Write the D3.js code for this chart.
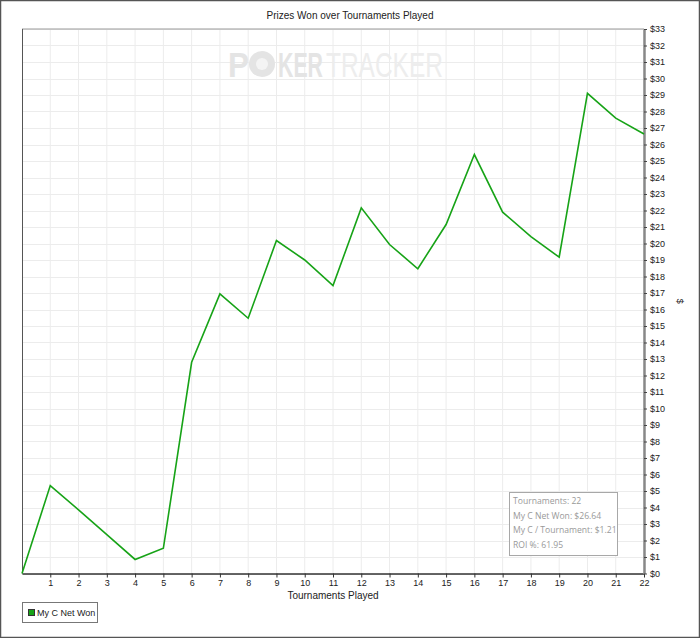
<!DOCTYPE html>
<html><head><meta charset="utf-8">
<script src="https://cdn.jsdelivr.net/npm/d3@7"></script>
<style>body{margin:0;background:#fff}svg{display:block}</style>
</head><body>
<svg id="c" width="700" height="638"></svg>
<script>
const tournaments = d3.range(0, 23);
const netWon = [0, 5.33, 3.86, 2.36, 0.85, 1.53, 12.8, 16.95, 15.47, 20.18, 19.0, 17.45, 22.16, 19.94, 18.47, 21.15, 25.39, 21.9, 20.42, 19.17, 29.1, 27.6, 26.64];
const xTicks = d3.range(1, 23);
const yTicks = d3.range(0, 34);
const statsLines = ["Tournaments: 22", "My C Net Won: $26.64", "My C / Tournament: $1.21", "ROI %: 61.95"];
const seriesName = "My C Net Won";
const title = "Prizes Won over Tournaments Played";

const svg = d3.select("#c");
const L = 22, R = 644, T = 29, B = 573.5;
const x = d3.scaleLinear().domain([0, 22]).range([L, R]);
const y = d3.scaleLinear().domain([0, 33]).range([B, T]);
const font = "Liberation Sans, Arial, sans-serif";

// outer frame
svg.append("rect").attr("x",0.5).attr("y",0.5).attr("width",699).attr("height",637)
  .attr("fill","#fff").attr("stroke","#555").attr("stroke-width",1.5);

svg.append("text").attr("x",350).attr("y",19).attr("text-anchor","middle")
  .attr("font-family",font).attr("font-size",10).attr("fill","#222").text(title);

// grid
const g = svg.append("g");
g.selectAll(".vg").data(xTicks).join("line")
  .attr("x1",d=>x(d)).attr("x2",d=>x(d)).attr("y1",T).attr("y2",B)
  .attr("stroke","#ececec").attr("stroke-width",1);
g.selectAll(".hg").data(yTicks).join("line")
  .attr("y1",d=>Math.round(y(d))+0.5).attr("y2",d=>Math.round(y(d))+0.5).attr("x1",L).attr("x2",R)
  .attr("stroke","#ececec").attr("stroke-width",1);

// watermark (condensed via horizontal scaling)
const wm = svg.append("g").attr("font-family",font).attr("font-size",35);
function wmText(str, x0, width, bold, fill) {
  const t = wm.append("text").attr("font-weight", bold ? "bold" : "normal").attr("fill", fill).text(str);
  const w = t.node().getComputedTextLength();
  t.attr("transform", `translate(${x0},77) scale(${width / w},1)`);
}
wmText("P", 228, 21, true, "#e4e4e4");
wm.append("circle").attr("cx",262).attr("cy",64).attr("r",13).attr("fill","#e4e4e4");
wm.append("circle").attr("cx",262).attr("cy",64).attr("r",6).attr("fill","#f4f4f4");
wmText("KER", 278, 45, true, "#e4e4e4");
wmText("TRACKER", 326, 117, false, "#ededed");

// plot frame
svg.append("line").attr("x1",L).attr("x2",R).attr("y1",T).attr("y2",T).attr("stroke","#999").attr("stroke-width",1);
svg.append("line").attr("x1",L+0.5).attr("x2",L+0.5).attr("y1",T).attr("y2",B).attr("stroke","#555").attr("stroke-width",1);

// x axis
const xAxis = d3.axisBottom(x).tickValues(xTicks).tickSize(4).tickSizeOuter(0).tickPadding(2).tickFormat(d3.format("d"));
const xa = svg.append("g").attr("transform",`translate(0,${B})`).call(xAxis);
xa.select(".domain").attr("stroke","#333").attr("stroke-width",1.5);
xa.selectAll(".tick line").attr("stroke","#333");
xa.selectAll("text").attr("font-family",font).attr("font-size",9).attr("fill","#222");

// y axis right
const yAxis = d3.axisRight(y).tickValues(yTicks).tickSize(3).tickSizeOuter(0).tickPadding(3).tickFormat(d=>"$"+d);
const ya = svg.append("g").attr("transform",`translate(${R},0)`).call(yAxis);
ya.select(".domain").attr("stroke","#888").attr("stroke-width",2.5);
ya.selectAll(".tick line").attr("stroke","#444");
ya.selectAll("text").attr("font-family",font).attr("font-size",9).attr("fill","#222");

svg.append("text").attr("transform",`translate(677,${(T+B)/2}) rotate(90)`).attr("text-anchor","middle")
  .attr("font-family",font).attr("font-size",9).attr("fill","#222").text("$");
svg.append("text").attr("x",333).attr("y",599).attr("text-anchor","middle")
  .attr("font-family",font).attr("font-size",10).attr("fill","#222").text("Tournaments Played");

// line
const line = d3.line().x((d,i)=>x(tournaments[i])).y(d=>y(d));
svg.append("path").datum(netWon).attr("d",line).attr("fill","none")
  .attr("stroke","#17a317").attr("stroke-width",1.6).attr("stroke-linejoin","miter");

// stats box
const sb = svg.append("g");
sb.append("rect").attr("x",509.5).attr("y",492.5).attr("width",108).attr("height",63)
  .attr("fill","#fff").attr("stroke","#a8a8a8").attr("stroke-width",1);
sb.selectAll("text").data(statsLines).join("text")
  .attr("x",513).attr("y",(d,i)=>504+i*14.5)
  .attr("font-family","Open Sans, DejaVu Sans, sans-serif").attr("font-size",8.6).attr("fill","#999").text(d=>d);

// legend
const lg = svg.append("g");
lg.append("rect").attr("x",22.5).attr("y",602.5).attr("width",75).attr("height",20)
  .attr("fill","#fff").attr("stroke","#777").attr("stroke-width",1);
lg.append("rect").attr("x",28.5).attr("y",609.5).attr("width",6).attr("height",6)
  .attr("fill","#17a317").attr("stroke","#333").attr("stroke-width",1);
lg.append("text").attr("x",37).attr("y",616).attr("font-family",font).attr("font-size",9)
  .attr("fill","#222").text(seriesName);
</script>
</body></html>
